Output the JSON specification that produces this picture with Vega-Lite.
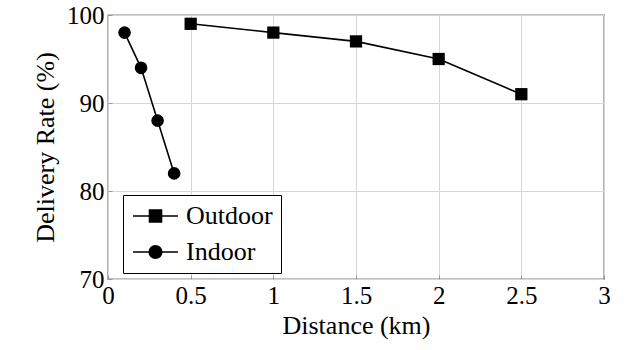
{
  "$schema": "https://vega.github.io/schema/vega-lite/v6.json",
  "width": 496,
  "height": 264,
  "autosize": "none",
  "padding": {"left": 108, "top": 15, "right": 23, "bottom": 71},
  "config": {
    "view": {"stroke": "black", "strokeWidth": 1.2},
    "font": "'Times New Roman', 'Liberation Serif', 'DejaVu Serif', serif",
    "axis": {
      "labelFont": "'Times New Roman', 'Liberation Serif', 'DejaVu Serif', serif",
      "titleFont": "'Times New Roman', 'Liberation Serif', 'DejaVu Serif', serif",
      "gridColor": "#d6d6d6",
      "gridWidth": 1,
      "domain": false,
      "tickColor": "#999999",
      "tickSize": -4,
      "labelFlush": false,
      "labelOverlap": false
    },
    "legend": {
      "labelFont": "'Times New Roman', 'Liberation Serif', 'DejaVu Serif', serif"
    }
  },
  "data": {
    "values": [
      {"series": "Outdoor", "distance": 0.5, "rate": 99},
      {"series": "Outdoor", "distance": 1.0, "rate": 98},
      {"series": "Outdoor", "distance": 1.5, "rate": 97},
      {"series": "Outdoor", "distance": 2.0, "rate": 95},
      {"series": "Outdoor", "distance": 2.5, "rate": 91},
      {"series": "Indoor", "distance": 0.1, "rate": 98},
      {"series": "Indoor", "distance": 0.2, "rate": 94},
      {"series": "Indoor", "distance": 0.3, "rate": 88},
      {"series": "Indoor", "distance": 0.4, "rate": 82}
    ]
  },
  "layer": [
    {
      "mark": {"type": "line", "strokeWidth": 1.6},
      "encoding": {
        "x": {"field": "distance", "type": "quantitative", "scale": {"domain": [0, 3], "nice": false},
              "axis": {"title": "Distance (km)", "values": [0, 0.5, 1, 1.5, 2, 2.5, 3], "format": "~g",
                       "labelFlush": false,
                       "labelFontSize": 25, "titleFontSize": 26, "titleFontWeight": "normal",
                       "labelColor": "black", "titleColor": "black", "labelPadding": 8, "titlePadding": 4}},
        "y": {"field": "rate", "type": "quantitative", "scale": {"domain": [70, 100], "nice": false, "zero": false},
              "axis": {"title": "Delivery Rate (%)", "values": [70, 80, 90, 100],
                       "labelFlush": false,
                       "labelFontSize": 25, "titleFontSize": 26, "titleFontWeight": "normal",
                       "labelColor": "black", "titleColor": "black", "labelPadding": 8, "titlePadding": 8}},
        "color": {
          "field": "series", "type": "nominal",
          "scale": {"domain": ["Outdoor", "Indoor"], "range": ["black", "black"]},
          "legend": {
            "title": null,
            "orient": "none",
            "legendX": 15,
            "legendY": 180,
            "padding": 7.5,
            "strokeColor": "black",
            "fillColor": "white",
            "labelFontSize": 26,
            "labelColor": "black",
            "labelOffset": 28.5,
            "symbolSize": 625,
            "symbolStrokeWidth": 1.6,
            "rowPadding": 9,
            "encode": {
              "symbols": {
                "update": {
                  "shape": {"signal": "datum.value === 'Outdoor' ? 'M-0.88,0H2.72M0.44,-0.48H1.4V0.48H0.44Z' : 'M-0.88,0H2.72M0.42,0A0.5,0.5 0 1,0 1.42,0A0.5,0.5 0 1,0 0.42,0Z'"},
                  "fill": {"value": "black"},
                  "stroke": {"value": "black"}
                }
              }
            }
          }
        }
      }
    },
    {
      "transform": [{"filter": "datum.series === 'Outdoor'"}],
      "mark": {"type": "point", "shape": "square", "filled": true, "color": "black", "opacity": 1, "size": 150},
      "encoding": {
        "x": {"field": "distance", "type": "quantitative"},
        "y": {"field": "rate", "type": "quantitative"}
      }
    },
    {
      "transform": [{"filter": "datum.series === 'Indoor'"}],
      "mark": {"type": "point", "shape": "circle", "filled": true, "color": "black", "opacity": 1, "size": 160},
      "encoding": {
        "x": {"field": "distance", "type": "quantitative"},
        "y": {"field": "rate", "type": "quantitative"}
      }
    }
  ]
}
